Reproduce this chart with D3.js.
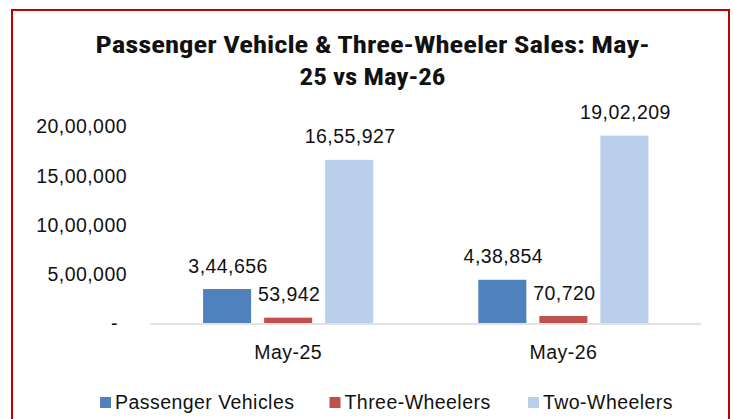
<!DOCTYPE html>
<html>
<head>
<meta charset="utf-8">
<script src="https://cdn.jsdelivr.net/npm/d3@7"></script>
<style>
    html, body { margin: 0; padding: 0; background: #fff; }
    svg { display: block; }
    text { font-family: "Liberation Sans", Arial, sans-serif; fill: #111; }
</style>
</head>
<body>
<div id="chart"></div>
<script>
var months = ["May-25", "May-26"];
var seriesNames = ["Passenger Vehicles", "Three-Wheelers", "Two-Wheelers"];
var passengerVehicles = [344656, 438854];
var threeWheelers = [53942, 70720];
var twoWheelers = [1655927, 1902209];
var yTicks = [0, 500000, 1000000, 1500000, 2000000];
var titleLines = ["Passenger Vehicle & Three-Wheeler Sales: May-", "25 vs May-26"];

var colors = ["#4f81bd", "#c0504d", "#b9cfec"];

var width = 733,
    height = 419;

var values = [passengerVehicles, threeWheelers, twoWheelers];
var rows = months.map(function (m, i) {
    return { month: m, vals: values.map(function (s) { return s[i]; }) };
});

// indian digit grouping: 16,55,927
function indian(n) {
    if (n === 0) return "-";
    var s = String(Math.round(n));
    if (s.length <= 3) return s;
    var last = s.slice(-3), rest = s.slice(0, -3);
    rest = rest.replace(/\B(?=(\d{2})+(?!\d))/g, ",");
    return rest + "," + last;
}

var svg = d3.select("#chart").append("svg")
    .attr("width", width)
    .attr("height", height);

svg.append("rect")
    .attr("width", width)
    .attr("height", height)
    .attr("fill", "#fff");

// outer frame, bottom edge falls off the picture
svg.append("rect")
    .attr("x", 12)
    .attr("y", 10)
    .attr("width", 717)
    .attr("height", 430)
    .attr("fill", "none")
    .attr("stroke", "#c00000")
    .attr("stroke-width", 2);

var title = svg.append("g");
title.selectAll("text")
    .data(titleLines)
    .enter().append("text")
    .attr("x", 372.5)
    .attr("y", function (d, i) { return 53 + i * 32; })
    .attr("text-anchor", "middle")
    .attr("textLength", function (d, i) { return i === 0 ? 554 : 146; })
    .attr("lengthAdjust", "spacingAndGlyphs")
    .style("font-family", "'Liberation Sans Narrow', 'Roboto Condensed', 'Liberation Sans', Arial, sans-serif")
    .style("font-weight", "bold")
    .style("font-size", "23px")
    .text(function (d) { return d; });

var x0 = d3.scaleBand()
    .domain(months)
    .range([150.5, 701])
    .paddingInner(0.382)
    .paddingOuter(0.191);

var x1 = d3.scaleBand()
    .domain(seriesNames)
    .range([0, x0.bandwidth()])
    .paddingInner(0.213);

var y = d3.scaleLinear()
    .domain([0, 2000000])
    .range([323, 126]);

var labelStyle = function (sel) {
    sel.style("font-size", "19.5px")
        .style("letter-spacing", "0.45px");
};

// y axis labels, no line
var yAxis = svg.append("g")
    .attr("transform", "translate(127,0)")
    .call(d3.axisLeft(y).tickValues(yTicks).tickSize(0).tickPadding(0).tickFormat(indian));
yAxis.select(".domain").remove();
yAxis.selectAll("text")
    .attr("dy", "0.35em")
    .attr("x", function (d) { return d === 0 ? -9 : 0; })
    .attr("fill", "#111")
    .style("font-family", "'Liberation Sans', Arial, sans-serif")
    .call(labelStyle);

var groups = svg.selectAll(".grp")
    .data(rows)
    .enter().append("g")
    .attr("class", "grp")
    .attr("transform", function (d) { return "translate(" + x0(d.month) + ",0)"; });

var cells = groups.selectAll(".cell")
    .data(function (d) {
        return d.vals.map(function (v, i) { return { key: seriesNames[i], value: v, i: i }; });
    })
    .enter();

cells.append("rect")
    .attr("x", function (d) { return x1(d.key); })
    .attr("y", function (d) { return y(d.value); })
    .attr("width", x1.bandwidth())
    .attr("height", function (d) { return y(0) - y(d.value); })
    .attr("fill", function (d) { return colors[d.i]; });

cells.append("text")
    .attr("x", function (d) { return x1(d.key) + x1.bandwidth() / 2 + 1; })
    .attr("y", function (d) { return y(d.value) - 16.5; })
    .attr("text-anchor", "middle")
    .call(labelStyle)
    .text(function (d) { return indian(d.value); });

// baseline
svg.append("line")
    .attr("x1", 150.5)
    .attr("x2", 701)
    .attr("y1", 324)
    .attr("y2", 324)
    .attr("stroke", "#d9d9d9")
    .attr("stroke-width", 1.5);

var xAxis = svg.append("g")
    .attr("transform", "translate(0,324)")
    .call(d3.axisBottom(x0).tickSize(0).tickPadding(0));
xAxis.select(".domain").remove();
xAxis.selectAll("text")
    .attr("dy", 0)
    .attr("y", 35)
    .attr("fill", "#111")
    .style("font-family", "'Liberation Sans', Arial, sans-serif")
    .call(labelStyle);

// legend
var legendX = [100, 329.5, 528];
var legend = svg.selectAll(".leg")
    .data(seriesNames)
    .enter().append("g")
    .attr("class", "leg")
    .attr("transform", function (d, i) { return "translate(" + legendX[i] + ",0)"; });

legend.append("rect")
    .attr("x", 0)
    .attr("y", 397)
    .attr("width", 11)
    .attr("height", 11)
    .attr("fill", function (d, i) { return colors[i]; });

legend.append("text")
    .attr("x", 15)
    .attr("y", 409)
    .call(labelStyle)
    .text(function (d) { return d; });
</script>
</body>
</html>
